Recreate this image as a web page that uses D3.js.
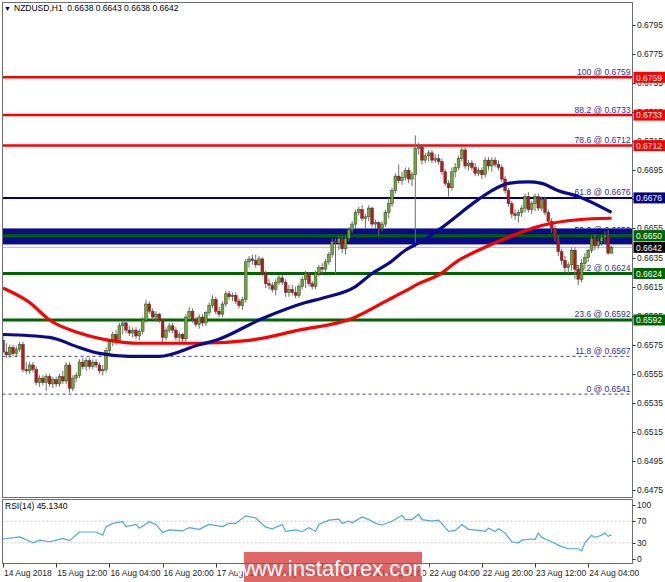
<!DOCTYPE html>
<html><head><meta charset="utf-8">
<script src="https://cdn.jsdelivr.net/npm/d3@7/dist/d3.min.js"></script>
<style>
body{margin:0;background:#fff;}
svg{display:block;font-family:"Liberation Sans",Arial,sans-serif;}
</style>
</head><body>
<svg id="chart" width="665" height="582"></svg>
<script>
// ---------------- DATA ----------------
const titleText = "NZDUSD,H1  0.6638 0.6643 0.6638 0.6642";
const rsiTitle = "RSI(14) 45.1340";

// hourly candles [open, high, low, close], bar 0 = 14 Aug 20:00
const candles = [
[0.6578,0.6581,0.6569,0.6570],[0.6570,0.6576,0.6566,0.6568],[0.6568,0.6575,0.6566,0.6573],[0.6573,0.6575,0.6567,0.6569],
[0.6569,0.6574,0.6567,0.6572],[0.6572,0.6577,0.6570,0.6575],[0.6575,0.6577,0.6556,0.6558],[0.6558,0.6563,0.6555,0.6557],
[0.6557,0.6563,0.6555,0.6561],[0.6561,0.6563,0.6556,0.6558],[0.6558,0.6560,0.6547,0.6549],[0.6549,0.6554,0.6546,0.6552],
[0.6552,0.6554,0.6547,0.6549],[0.6549,0.6555,0.6543,0.6553],[0.6553,0.6555,0.6546,0.6548],[0.6548,0.6553,0.6545,0.6551],
[0.6551,0.6553,0.6546,0.6548],[0.6548,0.6555,0.6546,0.6553],[0.6553,0.6557,0.6548,0.6550],[0.6550,0.6563,0.6548,0.6561],
[0.6561,0.6563,0.6542,0.6545],[0.6545,0.6554,0.6543,0.6552],[0.6552,0.6556,0.6549,0.6554],[0.6554,0.6565,0.6552,0.6563],
[0.6563,0.6566,0.6558,0.6560],[0.6560,0.6566,0.6557,0.6564],[0.6564,0.6566,0.6558,0.6560],[0.6560,0.6565,0.6558,0.6563],
[0.6563,0.6565,0.6559,0.6561],[0.6561,0.6563,0.6555,0.6557],[0.6557,0.6561,0.6554,0.6558],[0.6558,0.6573,0.6556,0.6571],
[0.6571,0.6579,0.6569,0.6577],[0.6577,0.6584,0.6574,0.6582],[0.6582,0.6585,0.6575,0.6578],[0.6578,0.6590,0.6577,0.6588],
[0.6588,0.6592,0.6582,0.6590],[0.6590,0.6592,0.6583,0.6585],[0.6585,0.6588,0.6581,0.6583],[0.6583,0.6587,0.6580,0.6585],
[0.6585,0.6587,0.6579,0.6581],[0.6581,0.6586,0.6578,0.6584],[0.6584,0.6594,0.6582,0.6592],[0.6592,0.6606,0.6590,0.6603],
[0.6603,0.6605,0.6596,0.6598],[0.6598,0.6600,0.6592,0.6594],[0.6594,0.6598,0.6591,0.6596],[0.6596,0.6597,0.6590,0.6592],
[0.6592,0.6593,0.6576,0.6580],[0.6580,0.6587,0.6578,0.6585],[0.6585,0.6590,0.6583,0.6588],[0.6588,0.6590,0.6583,0.6585],
[0.6585,0.6587,0.6578,0.6580],[0.6580,0.6584,0.6577,0.6582],[0.6582,0.6583,0.6577,0.6579],[0.6579,0.6596,0.6577,0.6594],
[0.6594,0.6601,0.6592,0.6598],[0.6598,0.6600,0.6590,0.6592],[0.6592,0.6594,0.6587,0.6589],[0.6589,0.6596,0.6586,0.6594],
[0.6594,0.6596,0.6588,0.6590],[0.6590,0.6598,0.6588,0.6597],[0.6597,0.6604,0.6595,0.6602],[0.6602,0.6609,0.6600,0.6606],
[0.6606,0.6608,0.6596,0.6598],[0.6598,0.6601,0.6594,0.6596],[0.6596,0.6605,0.6594,0.6603],[0.6603,0.6612,0.6601,0.6610],
[0.6610,0.6612,0.6606,0.6608],[0.6608,0.6611,0.6605,0.6609],[0.6609,0.6611,0.6603,0.6605],[0.6605,0.6607,0.6600,0.6602],
[0.6602,0.6608,0.6599,0.6606],[0.6606,0.6634,0.6604,0.6632],[0.6632,0.6636,0.6628,0.6634],[0.6634,0.6637,0.6630,0.6633],
[0.6633,0.6637,0.6628,0.6630],[0.6630,0.6636,0.6629,0.6634],[0.6634,0.6635,0.6622,0.6624],[0.6624,0.6626,0.6614,0.6617],
[0.6617,0.6620,0.6613,0.6616],[0.6616,0.6618,0.6611,0.6613],[0.6613,0.6620,0.6609,0.6618],[0.6618,0.6623,0.6616,0.6621],
[0.6621,0.6623,0.6616,0.6618],[0.6618,0.6620,0.6608,0.6611],[0.6611,0.6616,0.6608,0.6613],[0.6613,0.6616,0.6609,0.6611],
[0.6611,0.6615,0.6607,0.6609],[0.6609,0.6617,0.6607,0.6615],[0.6615,0.6622,0.6613,0.6620],[0.6620,0.6626,0.6614,0.6624],
[0.6624,0.6625,0.6615,0.6617],[0.6617,0.6619,0.6613,0.6615],[0.6615,0.6626,0.6613,0.6624],[0.6624,0.6630,0.6622,0.6628],
[0.6628,0.6631,0.6624,0.6627],[0.6627,0.6634,0.6625,0.6632],[0.6632,0.6639,0.6630,0.6637],[0.6637,0.6648,0.6635,0.6646],
[0.6646,0.6648,0.6624,0.6645],[0.6645,0.6650,0.6640,0.6648],[0.6648,0.6650,0.6638,0.6641],[0.6641,0.6650,0.6637,0.6648],
[0.6648,0.6656,0.6646,0.6654],[0.6654,0.6660,0.6652,0.6658],[0.6658,0.6668,0.6655,0.6666],[0.6666,0.6670,0.6664,0.6668],
[0.6668,0.6671,0.6660,0.6662],[0.6662,0.6665,0.6655,0.6663],[0.6663,0.6671,0.6660,0.6669],[0.6669,0.6670,0.6656,0.6658],
[0.6658,0.6661,0.6655,0.6659],[0.6659,0.6660,0.6650,0.6655],[0.6655,0.6660,0.6653,0.6658],[0.6658,0.6668,0.6656,0.6666],
[0.6666,0.6676,0.6662,0.6672],[0.6672,0.6683,0.6670,0.6681],[0.6681,0.6693,0.6679,0.6691],[0.6691,0.6699,0.6686,0.6688],
[0.6688,0.6694,0.6685,0.6690],[0.6690,0.6697,0.6688,0.6695],[0.6695,0.6697,0.6686,0.6689],[0.6689,0.6694,0.6684,0.6692],
[0.6692,0.6719,0.6642,0.6710],[0.6710,0.6714,0.6706,0.6711],[0.6711,0.6713,0.6699,0.6702],[0.6702,0.6707,0.6700,0.6705],
[0.6705,0.6709,0.6701,0.6707],[0.6707,0.6709,0.6700,0.6702],[0.6702,0.6706,0.6700,0.6703],[0.6703,0.6706,0.6699,0.6701],
[0.6701,0.6703,0.6692,0.6694],[0.6694,0.6696,0.6684,0.6686],[0.6686,0.6688,0.6677,0.6683],[0.6683,0.6697,0.6681,0.6694],
[0.6694,0.6700,0.6690,0.6697],[0.6697,0.6705,0.6695,0.6703],[0.6703,0.6712,0.6701,0.6709],[0.6709,0.6711,0.6696,0.6698],
[0.6698,0.6702,0.6695,0.6700],[0.6700,0.6702,0.6695,0.6697],[0.6697,0.6700,0.6691,0.6693],[0.6693,0.6697,0.6691,0.6695],
[0.6695,0.6697,0.6689,0.6692],[0.6692,0.6704,0.6690,0.6702],[0.6702,0.6704,0.6695,0.6698],[0.6698,0.6704,0.6694,0.6702],
[0.6702,0.6704,0.6697,0.6699],[0.6699,0.6702,0.6695,0.6697],[0.6697,0.6699,0.6687,0.6689],[0.6689,0.6691,0.6679,0.6681],
[0.6681,0.6683,0.6670,0.6672],[0.6672,0.6674,0.6662,0.6665],[0.6665,0.6668,0.6661,0.6664],[0.6664,0.6668,0.6659,0.6666],
[0.6666,0.6671,0.6663,0.6669],[0.6669,0.6679,0.6666,0.6677],[0.6677,0.6680,0.6666,0.6668],[0.6668,0.6674,0.6665,0.6672],
[0.6672,0.6679,0.6667,0.6677],[0.6677,0.6679,0.6667,0.6669],[0.6669,0.6677,0.6667,0.6675],[0.6675,0.6677,0.6664,0.6666],
[0.6666,0.6668,0.6658,0.6660],[0.6660,0.6662,0.6652,0.6655],[0.6655,0.6657,0.6646,0.6648],[0.6648,0.6650,0.6636,0.6639],
[0.6639,0.6641,0.6630,0.6633],[0.6633,0.6636,0.6625,0.6628],[0.6628,0.6632,0.6624,0.6630],[0.6630,0.6642,0.6626,0.6640],
[0.6640,0.6642,0.6620,0.6627],[0.6627,0.6630,0.6616,0.6620],[0.6620,0.6634,0.6618,0.6631],[0.6631,0.6638,0.6627,0.6635],
[0.6635,0.6641,0.6632,0.6640],[0.6640,0.6650,0.6638,0.6648],[0.6648,0.6651,0.6640,0.6643],[0.6643,0.6649,0.6641,0.6646],
[0.6646,0.6651,0.6643,0.6649],[0.6649,0.6653,0.6644,0.6650],[0.6650,0.6654,0.6637,0.6638],[0.6638,0.6643,0.6638,0.6642]
];

// moving averages: bar index / price
const maFastIdx = [0,14,23,29,38,47,59,64,78,91,96,106,111,116,121,125,131,143,147,152,158,162,167,173,183];
const maFastVal = [0.6582,0.6580,0.6573,0.6569,0.6567,0.6567,0.6575,0.6578,0.6593,0.6604,0.6607,0.6615,0.6624,0.6631,0.6640,0.6645,0.6654,0.6675,0.6681,0.6686,0.6687,0.6686,0.6681,0.6677,0.6666];
const maSlowIdx = [0,8,14,23,32,41,50,59,74,89,105,116,121,125,131,137,143,152,162,173,183];
const maSlowVal = [0.6614,0.6604,0.6592,0.6583,0.6578,0.6576,0.6576,0.6576,0.6578,0.6585,0.6593,0.6606,0.6612,0.6617,0.6623,0.6633,0.6640,0.6649,0.6657,0.6661,0.6662];

// Fibonacci levels
const fibNames  = ["100","88.2","78.6","61.8","50.0","38.2","23.6","11.8","0"];
const fibPrices = [0.6759,0.6733,0.6712,0.6676,0.6650,0.6624,0.6592,0.6567,0.6541];
const zoneLow = 0.6644, zoneHigh = 0.6655;
const lastPrice = 0.6642;

// price axis ticks
const priceTicks = [0.6795,0.6775,0.6755,0.6735,0.6715,0.6695,0.6675,0.6655,0.6635,0.6615,0.6595,0.6575,0.6555,0.6535,0.6515,0.6495,0.6475];

// time axis (bar index / label)
const timeTickIdx = [0,16,32,48,64,80,96,112,128,144,160,176];
const timeTickLabels = ["14 Aug 2018","15 Aug 12:00","16 Aug 04:00","16 Aug 20:00","17 Aug 12:00","20 Aug 04:00","20 Aug 20:00","21 Aug 12:00","22 Aug 04:00","22 Aug 20:00","23 Aug 12:00","24 Aug 04:00"];

// RSI(14)
const rsiIdx = [0,5,8,9,11,14,16,18,20,23,26,28,30,31,33,36,37,40,41,44,46,48,50,54,56,59,62,66,68,70,73,76,79,81,84,85,88,90,92,94,95,98,101,102,104,105,108,110,112,114,117,120,121,123,125,126,129,131,134,136,138,140,143,145,146,148,149,151,153,155,156,159,160,161,162,165,168,170,173,174,175,177,178,180,181,182,183];
const rsiVal = [37,41,33,30,35,32,35,38,34,50,50,50,44,60,66,69,60,64,57,69,64,49,54,52,58,55,64,60,66,66,80,76,59,56,64,51,54,51,58,51,64,72,74,66,70,67,78,73,66,63,70,81,73,73,83,73,70,72,51,53,64,55,53,51,57,51,56,48,32,30,35,37,36,48,40,32,23,19,19,15,30,44,40,44,48,42,45.134];
const rsiTicks = [100,70,30,0];
const rsiLevels = [70,30];

// ---------------- DRAW ----------------
const svg = d3.select("#chart");
const W = 665;
const L = 2.5, R = 632.5, T = 2.5, B = 497.5;
const RT = 499.5, RB = 563.5;

const x = d3.scaleLinear().domain([0, 183]).range([3, 611.5]);
const y = d3.scaleLinear().domain([0.6475, 0.6795]).range([490, 25]);
const yr = d3.scaleLinear().domain([0, 100]).range([559, 505]);

svg.append("defs").append("clipPath").attr("id","clipMain")
  .append("rect").attr("x",L).attr("y",T).attr("width",R-L).attr("height",B-T);
svg.select("defs").append("clipPath").attr("id","clipRsi")
  .append("rect").attr("x",L).attr("y",RT).attr("width",R-L).attr("height",RB-RT);

const main = svg.append("g").attr("clip-path","url(#clipMain)");

// zone band
main.append("rect").attr("x",L).attr("width",R-L)
  .attr("y",y(zoneHigh)).attr("height",y(zoneLow)-y(zoneHigh)).attr("fill","#0a0a8c");

// last price line
main.append("line").attr("x1",L).attr("x2",R).attr("y1",y(lastPrice)).attr("y2",y(lastPrice))
  .attr("stroke","#b4b4c8").attr("stroke-width",1);

// fib lines
const fibColor = ["#ff0000","#ff0000","#ff0000","#000080","#006400","#006400","#006400","#3c3ca0","#3c3ca0"];
const fibWidth = [2.5,2.5,2.5,2,3,3,3,1,1];
const fibDash  = [null,null,null,null,null,null,null,"3,3","3,3"];
fibPrices.forEach((p,k)=>{
  main.append("line").attr("x1",L).attr("x2",R).attr("y1",y(p)).attr("y2",y(p))
    .attr("stroke",fibColor[k]).attr("stroke-width",fibWidth[k])
    .attr("stroke-dasharray",fibDash[k]);
});
// fib labels
fibPrices.forEach((p,k)=>{
  main.append("text").attr("x",630.5).attr("y",y(p)-2.5)
    .attr("text-anchor","end").attr("font-size",8.5)
    .attr("fill", k===4 ? "#101090" : "#2e2e96")
    .text(fibNames[k]+" @ "+p.toFixed(4));
});

// candles
const cg = main.append("g");
candles.forEach((c,i)=>{
  const [o,h,l,cl] = c;
  const xi = x(i);
  cg.append("line").attr("x1",xi).attr("x2",xi).attr("y1",y(h)).attr("y2",y(l))
    .attr("stroke","#6e6e6e").attr("stroke-width",1);
  const top = y(Math.max(o,cl)), bot = y(Math.min(o,cl));
  cg.append("rect").attr("x",xi-1.4).attr("width",2.8)
    .attr("y",top).attr("height",Math.max(1,bot-top))
    .attr("fill", cl>=o ? "#6aad2e" : "#c41414")
    .attr("stroke","#3a3a3a").attr("stroke-width",0.5);
});

// moving averages
const lineGen = d3.line().x(d=>x(d[0])).y(d=>y(d[1])).curve(d3.curveMonotoneX);
main.append("path").datum(maSlowIdx.map((v,k)=>[v,maSlowVal[k]]))
  .attr("d",lineGen).attr("fill","none").attr("stroke","#ff0000").attr("stroke-width",3.2);
main.append("path").datum(maFastIdx.map((v,k)=>[v,maFastVal[k]]))
  .attr("d",lineGen).attr("fill","none").attr("stroke","#0a0a8c").attr("stroke-width",3.2);

// title
svg.append("rect").attr("x",0).attr("y",0).attr("width",225).attr("height",13).attr("fill","#fff");
svg.append("text").attr("x",4).attr("y",11).attr("font-size",7).attr("fill","#000").text("\u25BC");
svg.append("text").attr("x",14).attr("y",11).attr("font-size",8.5).attr("fill","#000")
  .attr("xml:space","preserve").style("white-space","pre").text(titleText);

// panel borders
svg.append("rect").attr("x",L).attr("y",T).attr("width",R-L).attr("height",B-T)
  .attr("fill","none").attr("stroke","#6e6e6e").attr("stroke-width",1);
svg.append("rect").attr("x",L).attr("y",RT).attr("width",R-L).attr("height",RB-RT)
  .attr("fill","none").attr("stroke","#6e6e6e").attr("stroke-width",1);

// price axis
priceTicks.forEach(p=>{
  svg.append("line").attr("x1",R).attr("x2",R+3).attr("y1",Math.round(y(p))+0.5).attr("y2",Math.round(y(p))+0.5)
    .attr("stroke","#333");
  svg.append("text").attr("x",637).attr("y",y(p)+3).attr("font-size",8.5).attr("fill","#222")
    .text(p.toFixed(4));
});

// price boxes
const boxPrices = fibPrices.slice(0,7).concat([lastPrice]);
const boxColors = ["#ff0000","#ff0000","#ff0000","#000080","#006400","#006400","#006400","#000000"];
boxPrices.forEach((p,k)=>{
  svg.append("rect").attr("x",R+1).attr("y",y(p)-5.5).attr("width",W-R).attr("height",11)
    .attr("fill",boxColors[k]);
  svg.append("text").attr("x",636).attr("y",y(p)+3.2).attr("font-size",8.5).attr("fill","#fff")
    .text(p.toFixed(4));
});

// RSI panel
const rsiG = svg.append("g").attr("clip-path","url(#clipRsi)");
rsiLevels.forEach(v=>{
  rsiG.append("line").attr("x1",L).attr("x2",R).attr("y1",yr(v)).attr("y2",yr(v))
    .attr("stroke","#c8c8c8").attr("stroke-dasharray","2,2");
});
rsiG.append("path").datum(rsiIdx.map((v,k)=>[v,rsiVal[k]]))
  .attr("d",d3.line().x(d=>x(d[0])).y(d=>yr(d[1])))
  .attr("fill","none").attr("stroke","#4aa3ff").attr("stroke-width",1.2);
svg.append("text").attr("x",5).attr("y",509).attr("font-size",8.5).attr("fill","#000").text(rsiTitle);
rsiTicks.forEach(v=>{
  svg.append("line").attr("x1",R).attr("x2",R+3).attr("y1",Math.round(yr(v))+0.5).attr("y2",Math.round(yr(v))+0.5).attr("stroke","#333");
  svg.append("text").attr("x",637).attr("y",yr(v)+3).attr("font-size",8.5).attr("fill","#222").text(v);
});

// time axis
timeTickIdx.forEach((t,k)=>{
  const xt = Math.round(x(t))+0.5;
  svg.append("line").attr("x1",xt).attr("x2",xt).attr("y1",RB).attr("y2",RB+4).attr("stroke","#333");
  svg.append("text").attr("x",x(t)+1).attr("y",576).attr("font-size",8.5).attr("fill","#222").text(timeTickLabels[k]);
});

// watermark
svg.append("rect").attr("x",244).attr("y",552).attr("width",178).attr("height",30)
  .attr("fill","rgba(214,60,60,0.78)");
svg.append("text").attr("x",333).attr("y",576).attr("text-anchor","middle")
  .attr("font-size",22).attr("fill","#fff").text("www.instaforex.com");
</script>
</body></html>
